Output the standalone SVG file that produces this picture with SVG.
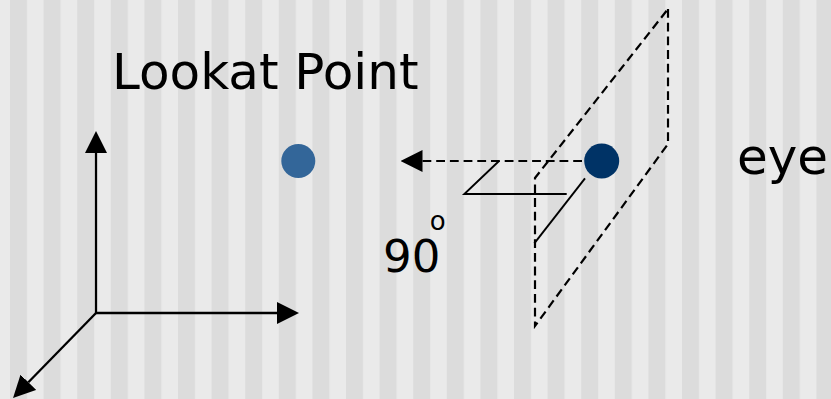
<svg xmlns="http://www.w3.org/2000/svg" width="831" height="399" viewBox="0 0 831 399">
  <defs>
    <pattern id="stripes" patternUnits="userSpaceOnUse" x="10" y="0" width="33.6" height="399">
      <rect x="0" y="0" width="17" height="399" fill="#dcdcdc"/>
    </pattern>
    <marker id="arrow" markerUnits="userSpaceOnUse" viewBox="0 0 22 22" markerWidth="22" markerHeight="22" refX="0" refY="11" orient="auto-start-reverse">
      <path d="M0,0 L22,11 L0,22 Z" fill="#000"/>
    </marker>
  </defs>
  <style>
    .txt { font-family: "DejaVu Sans", Verdana, sans-serif; fill: #000; }
    .axis { stroke: #000; stroke-width: 2.3; fill: none; }
    .solid { stroke: #000; stroke-width: 1.9; fill: none; }
    .dash { stroke: #000; stroke-width: 2.2; fill: none; stroke-dasharray: 8.8 4.9; }
  </style>
  <rect x="0" y="0" width="831" height="399" fill="#eaeaea"/>
  <rect x="0" y="0" width="831" height="399" fill="url(#stripes)"/>

  <g id="connectors">
    <line class="axis" x1="96" y1="313" x2="96" y2="153" marker-end="url(#arrow)"/>
    <line class="axis" x1="95" y1="313" x2="277" y2="313" marker-end="url(#arrow)"/>
    <line class="axis" x1="96" y1="313" x2="28.4" y2="382.3" marker-end="url(#arrow)"/>
    <line class="dash" x1="422.5" y1="161" x2="586" y2="161" marker-start="url(#arrow)"/>
  </g>

  <g id="view-plane">
    <path class="dash" d="M668,9 L668,144 L535,326 L535,178 Z"/>
  </g>

  <g id="right-angle">
    <polyline class="solid" points="499.3,160.7 464.3,194 566.7,194"/>
    <line class="solid" x1="585" y1="178.3" x2="534.3" y2="243.3"/>
  </g>

  <g id="lookat-point">
    <circle cx="298.3" cy="161" r="17" fill="#336699"/>
    <text class="txt" x="112" y="89" font-size="50">Lookat Point</text>
  </g>

  <g id="eye">
    <circle cx="601.7" cy="161" r="17.5" fill="#003366"/>
    <text class="txt" x="737" y="174" font-size="50">eye</text>
  </g>

  <g id="angle-label">
    <text class="txt" x="383" y="271.5" font-size="45">90<tspan dx="-10.6" dy="-42" font-size="26">o</tspan></text>
  </g>
</svg>
